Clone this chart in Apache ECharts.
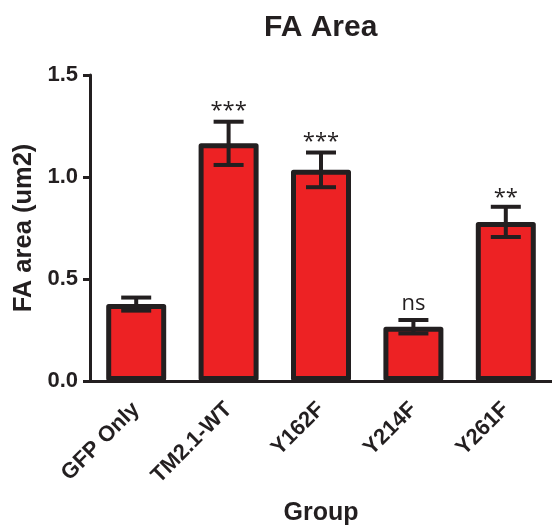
<!DOCTYPE html>
<html><head><meta charset="utf-8">
<script src="https://cdn.jsdelivr.net/npm/echarts@6/dist/echarts.min.js"></script>
<style>html,body{margin:0;padding:0;background:#fff}#c{width:552px;height:528px}</style>
</head><body><div id="c"></div>
<script>
const categories = ['GFP Only', 'TM2.1-WT', 'Y162F', 'Y214F', 'Y261F'];
const means = [0.377, 1.165, 1.035, 0.266, 0.780];
const errors = [0.032, 0.106, 0.085, 0.033, 0.074];
const sigLabels = ['', '***', '***', 'ns', '**'];
const sigLabelY = [null, 1.27, 1.12, 0.325, 0.845];
const yTicks = [0, 0.5, 1.0, 1.5];

const ink = '#231f20';
const red = '#ed2224';
const boldFont = 'Liberation Sans, Arial, sans-serif';

const chart = echarts.init(document.getElementById('c'), null, {renderer: 'canvas'});

const errData = categories.map((c, i) => [i, means[i] - errors[i], means[i] + errors[i]]);
const sigData = categories.map((c, i) => [i, sigLabelY[i] == null ? 0 : sigLabelY[i], sigLabels[i]]);

chart.setOption({
  animation: false,
  backgroundColor: '#fff',
  title: {
    text: 'FA Area', left: 259, top: 8,
    textStyle: {fontFamily: boldFont, fontWeight: 'bold', fontSize: 30, color: ink}
  },
  grid: {left: 90, right: 0, top: 75, bottom: 147, containLabel: false, outerBoundsMode: 'none'},
  xAxis: {
    type: 'category', data: categories,
    name: 'Group', nameLocation: 'middle', nameGap: 120,
    nameTextStyle: {fontFamily: boldFont, fontWeight: 'bold', fontSize: 25, color: ink},
    axisLine: {lineStyle: {color: ink, width: 3}},
    axisTick: {alignWithLabel: true, length: 8, lineStyle: {color: ink, width: 3}},
    axisLabel: {rotate: 45, interval: 0, margin: 25, fontFamily: boldFont, fontWeight: 'bold', fontSize: 22, color: ink}
  },
  yAxis: {
    type: 'value', min: yTicks[0], max: yTicks[yTicks.length - 1], interval: yTicks[1] - yTicks[0],
    name: 'FA area (um2)', nameLocation: 'middle', nameGap: 45,
    nameTextStyle: {fontFamily: boldFont, fontWeight: 'bold', fontSize: 25.5, color: ink},
    axisLine: {show: true, lineStyle: {color: ink, width: 3}},
    axisTick: {show: true, length: 7, lineStyle: {color: ink, width: 3}},
    splitLine: {show: false},
    axisLabel: {margin: 12, fontFamily: boldFont, fontWeight: 'bold', fontSize: 22, color: ink,
      formatter: v => v.toFixed(1)}
  },
  series: [
    {
      type: 'bar', data: means, barWidth: 60,
      itemStyle: {color: red, borderColor: ink, borderWidth: 5, borderJoin: 'round'}
    },
    {
      type: 'custom', data: errData, z: 5,
      renderItem: function (params, api) {
        const i = api.value(0);
        const lo = api.coord([i, api.value(1)]);
        const hi = api.coord([i, api.value(2)]);
        const hw = 15;
        const st = {stroke: ink, lineWidth: 4};
        return {type: 'group', children: [
          {type: 'line', shape: {x1: lo[0], y1: lo[1], x2: hi[0], y2: hi[1]}, style: st},
          {type: 'line', shape: {x1: hi[0] - hw, y1: hi[1], x2: hi[0] + hw, y2: hi[1]}, style: st},
          {type: 'line', shape: {x1: lo[0] - hw, y1: lo[1], x2: lo[0] + hw, y2: lo[1]}, style: st}
        ]};
      }
    },
    {
      type: 'custom', data: sigData, z: 6,
      renderItem: function (params, api) {
        const i = api.value(0);
        const p = api.coord([i, api.value(1)]);
        return {type: 'text', x: p[0], y: p[1], style: {
          text: sigLabels[i], fill: ink, font: '22px "Open Sans", sans-serif',
          align: 'center', verticalAlign: 'bottom', textAlign: 'center', textVerticalAlign: 'bottom'
        }};
      }
    }
  ]
});
</script>
</body></html>
